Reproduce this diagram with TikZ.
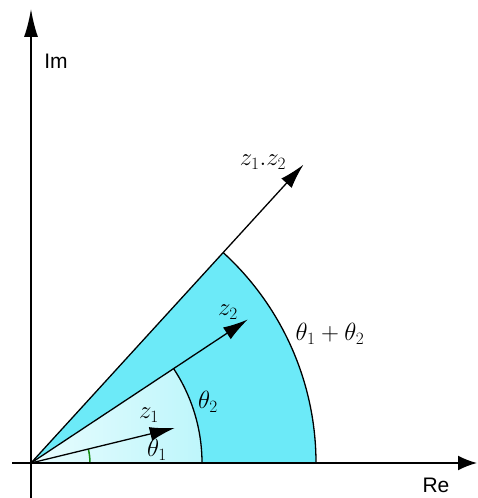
\documentclass[tikz,border=0pt]{standalone}
\usepackage{fontspec}
\setsansfont{Liberation Sans}
\usetikzlibrary{arrows.meta,calc}
\definecolor{bigcyan}{RGB}{108,234,248}
\definecolor{lightcyanA}{RGB}{232,252,254}
\definecolor{lightcyanB}{RGB}{190,246,251}
\definecolor{arcgreen}{RGB}{20,140,20}
\tikzset{
  axis/.style={line width=1.7pt,-{Latex[length=22pt,width=13pt]}},
  vec/.style={line width=1.3pt,-{Latex[length=25pt,width=14pt]}},
  arcline/.style={line width=1.3pt},
  axlabel/.style={font=\sffamily\fontsize{21}{24}\selectfont,inner sep=0pt},
  mlabel/.style={font=\fontsize{23}{26}\selectfont,inner sep=0pt}
}
\begin{document}
\begin{tikzpicture}[x=1pt,y=1pt]
\useasboundingbox (0,0) rectangle (477,498);
\coordinate (O) at (31,35);
% sectors
\fill[bigcyan] (O) -- ++(285,0) arc[start angle=0,end angle=47.6,radius=285] -- cycle;
\shade[left color=lightcyanA,right color=lightcyanB] (O) -- ++(171,0) arc[start angle=0,end angle=33.5,radius=171] -- cycle;
\draw[arcline] ($(O)+(285,0)$) arc[start angle=0,end angle=47.6,radius=285];
\draw[arcline] ($(O)+(171,0)$) arc[start angle=0,end angle=33.5,radius=171];
\draw[arcgreen,line width=1.5pt] ($(O)+(59,0)$) arc[start angle=0,end angle=13.7,radius=59];
% axes
\coordinate (ImB) at (31,0);
\coordinate (ImT) at (31,489);
\coordinate (ReL) at (12,35);
\coordinate (ReR) at (477,35);
\draw[axis,-{Latex[length=28pt,width=14pt]}] (ImB) -- (ImT);
\draw[axis,-{Latex[length=19pt,width=15pt]}] (ReL) -- (ReR);
% vectors
\coordinate (A) at ($(O)+(13.7:148)$);
\coordinate (B) at ($(O)+(33.5:260)$);
\coordinate (C) at ($(O)+(47.6:404)$);
\draw[vec] (O) -- (A);
\draw[vec] (O) -- (B);
\draw[vec] (O) -- (C);
% labels
\node[axlabel] (lIm) at (56,437) {Im};
\node[axlabel] (lRe) at (436,13) {Re};
\node[mlabel] (lz12) at (263,336) {$z_1.z_2$};
\node[mlabel] (lz2) at (228,186) {$z_2$};
\node[mlabel] (lt12) at (330,164) {$\theta_1+\theta_2$};
\node[mlabel] (lt2) at (208,96) {$\theta_2$};
\node[mlabel] (lz1) at (149,83) {$z_1$};
\node[mlabel] (lt1) at (157,48) {$\theta_1$};
\end{tikzpicture}
\end{document}
